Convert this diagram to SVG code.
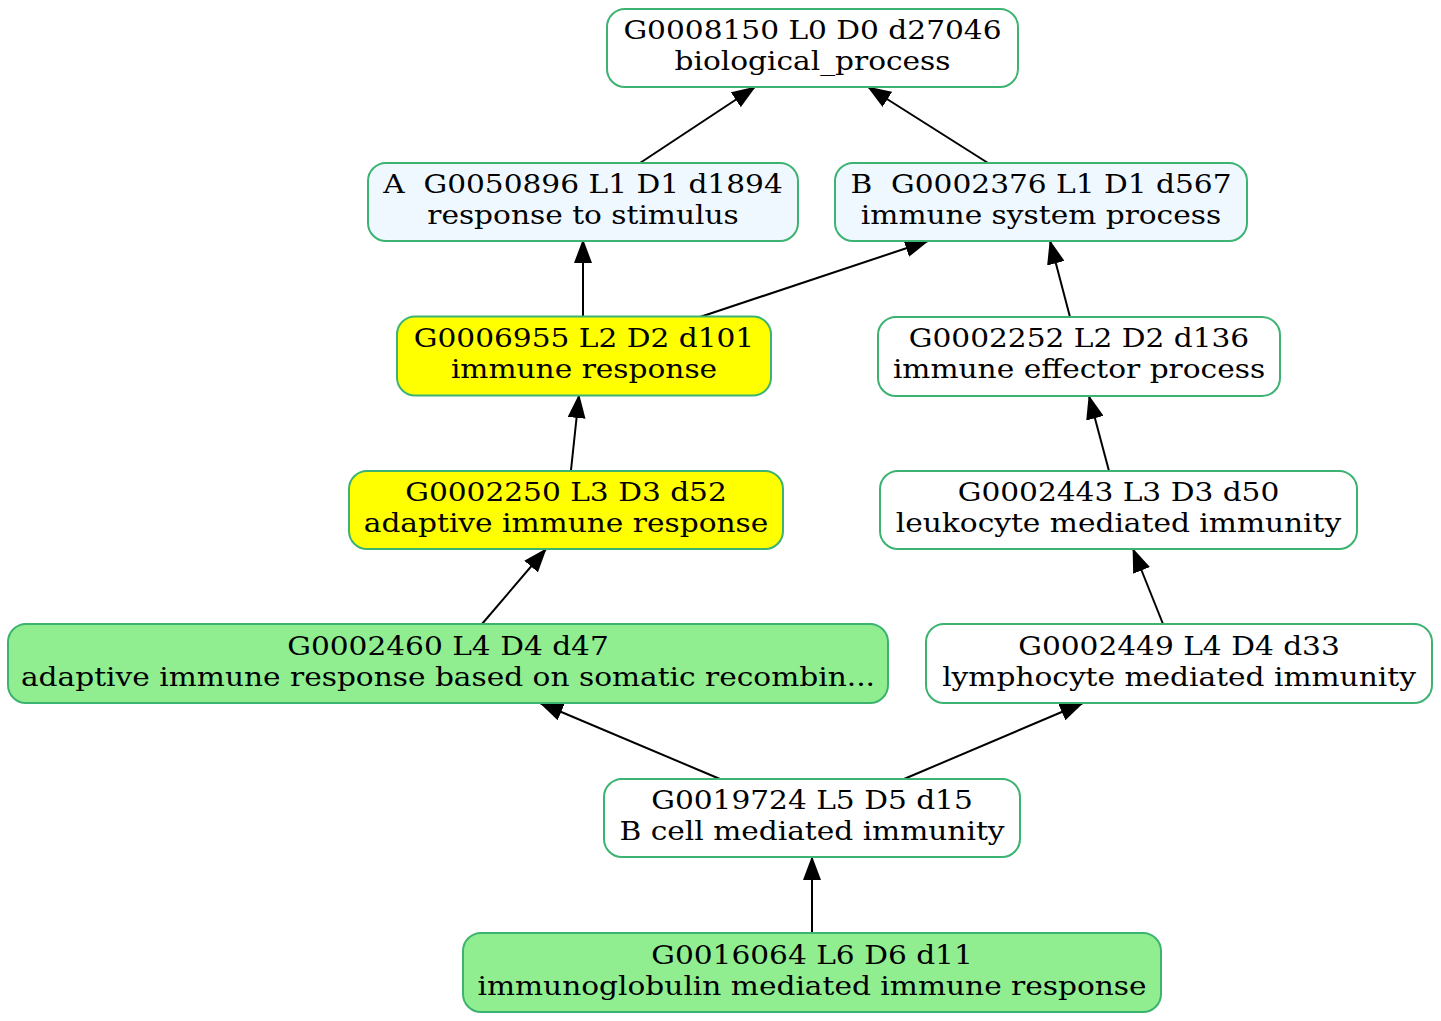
<svg xmlns="http://www.w3.org/2000/svg" width="1441" height="1021" viewBox="0 0 1441 1021">
<defs>
<style>
.n{stroke:#3cb371;stroke-width:2}
.w{fill:#ffffff}.a{fill:#f0f8ff}.y{fill:#ffff00}.g{fill:#90ee90}
text{font-family:"DejaVu Serif","Liberation Serif",serif;font-size:26px;fill:#000;text-anchor:middle}
.e{stroke:#000;stroke-width:2;fill:none;marker-end:url(#ah)}
</style>
<marker id="ah" markerUnits="userSpaceOnUse" viewBox="0 0 24 18" refX="23" refY="9" markerWidth="24" markerHeight="18" orient="auto">
<path d="M0,0 L24,9 L0,18 z" fill="#000"/>
</marker>
</defs>
<rect width="1441" height="1021" fill="#fff"/>
<g id="connectors">
<line class="e" x1="640" y1="163" x2="755" y2="87"/>
<line class="e" x1="988" y1="163" x2="868" y2="87"/>
<line class="e" x1="583" y1="316" x2="583" y2="240"/>
<line class="e" x1="700" y1="317" x2="928" y2="241"/>
<line class="e" x1="1070" y1="317" x2="1050" y2="241"/>
<line class="e" x1="571" y1="470" x2="579" y2="395"/>
<line class="e" x1="1109" y1="471" x2="1089" y2="396"/>
<line class="e" x1="482" y1="624" x2="546" y2="549"/>
<line class="e" x1="1163" y1="624" x2="1133" y2="549"/>
<line class="e" x1="720" y1="779" x2="540" y2="703"/>
<line class="e" x1="904" y1="779" x2="1083" y2="703"/>
<line class="e" x1="812" y1="933" x2="812" y2="857"/>
</g>
<g id="n0"><rect class="n w" x="607" y="9" width="411" height="78" rx="18"/><g transform="translate(812.5 0) scale(1.14 1)"><text x="0" y="39">G0008150 L0 D0 d27046</text><text x="0" y="70">biological_process</text></g></g>
<g id="nA"><rect class="n a" x="368" y="163" width="430" height="78" rx="18"/><g transform="translate(583 0) scale(1.14 1)"><text x="0" y="193" xml:space="preserve">A  G0050896 L1 D1 d1894</text><text x="0" y="224">response to stimulus</text></g></g>
<g id="nB"><rect class="n a" x="835" y="163" width="412" height="78" rx="18"/><g transform="translate(1041 0) scale(1.14 1)"><text x="0" y="193" xml:space="preserve">B  G0002376 L1 D1 d567</text><text x="0" y="224">immune system process</text></g></g>
<g id="n6955"><rect class="n y" x="397" y="316.5" width="374" height="79" rx="18"/><g transform="translate(584 0) scale(1.14 1)"><text x="0" y="347">G0006955 L2 D2 d101</text><text x="0" y="378">immune response</text></g></g>
<g id="n2252"><rect class="n w" x="878" y="317" width="402" height="79" rx="18"/><g transform="translate(1079 0) scale(1.14 1)"><text x="0" y="347">G0002252 L2 D2 d136</text><text x="0" y="378">immune effector process</text></g></g>
<g id="n2250"><rect class="n y" x="349" y="471" width="434" height="78" rx="18"/><g transform="translate(566 0) scale(1.14 1)"><text x="0" y="501">G0002250 L3 D3 d52</text><text x="0" y="532">adaptive immune response</text></g></g>
<g id="n2443"><rect class="n w" x="880" y="471" width="477" height="78" rx="18"/><g transform="translate(1118.5 0) scale(1.14 1)"><text x="0" y="501">G0002443 L3 D3 d50</text><text x="0" y="532">leukocyte mediated immunity</text></g></g>
<g id="n2460"><rect class="n g" x="8" y="624" width="880" height="79" rx="18"/><g transform="translate(448 0) scale(1.14 1)"><text x="0" y="655">G0002460 L4 D4 d47</text><text x="0" y="686">adaptive immune response based on somatic recombin...</text></g></g>
<g id="n2449"><rect class="n w" x="926" y="624" width="506" height="79" rx="18"/><g transform="translate(1179 0) scale(1.14 1)"><text x="0" y="655">G0002449 L4 D4 d33</text><text x="0" y="686">lymphocyte mediated immunity</text></g></g>
<g id="n19724"><rect class="n w" x="604" y="779" width="416" height="78" rx="18"/><g transform="translate(812 0) scale(1.14 1)"><text x="0" y="809">G0019724 L5 D5 d15</text><text x="0" y="840">B cell mediated immunity</text></g></g>
<g id="n16064"><rect class="n g" x="463" y="933" width="698" height="79" rx="18"/><g transform="translate(812 0) scale(1.14 1)"><text x="0" y="964">G0016064 L6 D6 d11</text><text x="0" y="995">immunoglobulin mediated immune response</text></g></g>
</svg>
